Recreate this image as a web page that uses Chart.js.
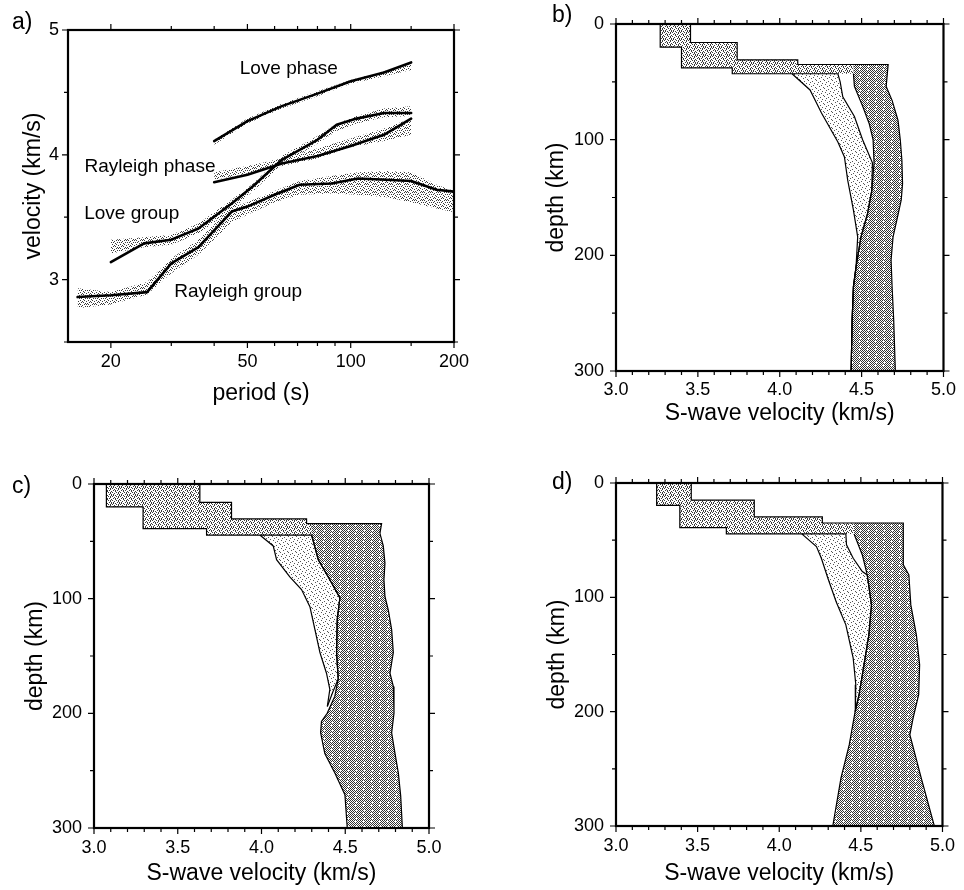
<!DOCTYPE html>
<html><head><meta charset="utf-8">
<script src="https://cdn.jsdelivr.net/npm/chart.js@4/dist/chart.umd.min.js"></script>
<style>
html,body{margin:0;padding:0;background:#fff;width:964px;height:890px;overflow:hidden;}
canvas{position:absolute;}
.lbl{position:absolute;font-family:"Liberation Sans",Arial,sans-serif;font-size:23px;line-height:23px;color:#000;}
</style></head><body>
<canvas id="ca" width="480" height="440" style="left:0;top:0"></canvas>
<canvas id="cb" width="484" height="440" style="left:480px;top:0"></canvas>
<canvas id="cc" width="480" height="450" style="left:0;top:440px"></canvas>
<canvas id="cd" width="484" height="450" style="left:480px;top:440px"></canvas>
<div class="lbl" style="left:12px;top:10px">a)</div>
<div class="lbl" style="left:552px;top:3px">b)</div>
<div class="lbl" style="left:12px;top:474px">c)</div>
<div class="lbl" style="left:552px;top:470px">d)</div>
<script>
// ---------------- Panel a : dispersion curves ----------------
const periodTicks = [20, 50, 100, 200];
const periodMinorTicks = [30, 40, 60, 70, 80, 90, 150];
const velocityTicks = [3, 4, 5];
const velocityMinorTicks = [2.5, 3.5, 4.5];

const lovePhasePeriod = [40, 50, 63, 80, 100, 125, 150];
const lovePhase      = [4.11, 4.27, 4.39, 4.49, 4.59, 4.66, 4.74];
const lovePhaseLow   = [4.08, 4.25, 4.37, 4.47, 4.57, 4.63, 4.68];
const lovePhaseHigh  = [4.12, 4.29, 4.41, 4.51, 4.60, 4.67, 4.73];

const rayPhasePeriod = [40, 50, 63, 80, 100, 125, 150];
const rayPhase       = [3.78, 3.84, 3.93, 3.99, 4.07, 4.16, 4.29];
const rayPhaseLow    = [3.80, 3.85, 3.91, 3.97, 4.06, 4.11, 4.16];
const rayPhaseHigh   = [3.86, 3.91, 3.97, 4.05, 4.13, 4.21, 4.29];

const loveGroupPeriod = [20, 25, 30, 36, 45, 52, 63, 80, 91, 104, 125, 150];
const loveGroup       = [3.14, 3.29, 3.32, 3.41, 3.61, 3.75, 3.96, 4.12, 4.24, 4.29, 4.335, 4.335];
const loveGroupLow    = [3.21, 3.26, 3.28, 3.37, 3.56, 3.71, 3.92, 4.09, 4.19, 4.25, 4.30, 4.31];
const loveGroupHigh   = [3.32, 3.34, 3.36, 3.45, 3.64, 3.77, 3.99, 4.15, 4.25, 4.31, 4.37, 4.39];

const rayGroupPeriod = [16, 20, 25.5, 30, 36, 45, 50, 60, 71, 88, 105, 127, 150, 178, 200];
const rayGroup       = [2.86, 2.875, 2.90, 3.13, 3.26, 3.545, 3.585, 3.68, 3.76, 3.77, 3.81, 3.80, 3.79, 3.72, 3.705];
const rayGroupLow    = [2.77, 2.80, 2.88, 3.05, 3.20, 3.46, 3.52, 3.62, 3.68, 3.69, 3.68, 3.66, 3.62, 3.57, 3.54];
const rayGroupHigh   = [2.93, 2.90, 2.98, 3.17, 3.32, 3.58, 3.62, 3.71, 3.79, 3.83, 3.86, 3.87, 3.86, 3.76, 3.71];

const curveLabels      = ['Love phase', 'Rayleigh phase', 'Love group', 'Rayleigh group'];
const curveLabelPeriod = [66, 26, 23, 47];
const curveLabelVel    = [4.69, 3.905, 3.53, 2.90];

// ---------------- Panels b, c, d : S-wave velocity profiles ----------------
const vsTicks = [3.0, 3.5, 4.0, 4.5, 5.0];
const vsMinorTicks = [3.1,3.2,3.3,3.4,3.6,3.7,3.8,3.9,4.1,4.2,4.3,4.4,4.6,4.7,4.8,4.9];
const depthTicks = [0, 100, 200, 300];
const depthMinorTicks = [50, 150, 250];

// panel b
const bCrustMinV = [3.27, 3.40, 3.71];   const bCrustMinBase = [20, 38, 43];
const bCrustMaxV = [3.455, 3.74, 4.11];  const bCrustMaxBase = [16, 31, 35];
const bL1Depth = [43, 57, 77, 102, 115, 135, 161, 184, 210, 227, 256, 300];
const bL1Vel   = [4.075, 4.185, 4.255, 4.355, 4.395, 4.415, 4.45, 4.476, 4.466, 4.45, 4.442, 4.436];
const bR1Depth = [43, 50, 63, 80, 100, 120, 144, 164, 184, 210, 227, 256, 300];
const bR1Vel   = [4.355, 4.369, 4.385, 4.456, 4.506, 4.566, 4.562, 4.536, 4.496, 4.466, 4.45, 4.442, 4.436];
const bL2Depth = [43, 54, 71, 86, 100, 120, 144, 164, 184, 210, 227, 256, 300];
const bL2Vel   = [4.45, 4.456, 4.506, 4.546, 4.57, 4.576, 4.562, 4.536, 4.496, 4.466, 4.45, 4.442, 4.436];
const bR2Depth = [35, 54, 66, 83, 100, 118, 138, 152, 169, 184, 204, 227, 256, 300];
const bR2Vel   = [4.662, 4.65, 4.686, 4.722, 4.736, 4.746, 4.75, 4.742, 4.716, 4.692, 4.68, 4.686, 4.696, 4.706];

// panel c
const cCrustMinV = [3.074, 3.293, 3.672]; const cCrustMinBase = [20, 39, 44.5];
const cCrustMaxV = [3.632, 3.821, 4.269]; const cCrustMaxBase = [16, 30.5, 34.5];
const cL1Depth = [44.5, 54, 66, 81, 92, 107, 127, 147, 165, 179, 194];
const cL1Vel   = [3.99, 4.07, 4.09, 4.169, 4.239, 4.289, 4.319, 4.349, 4.388, 4.408, 4.393];
const cR1Depth = [44.5, 66, 83.5, 99.4, 118, 147, 170, 182, 194];
const cR1Vel   = [4.299, 4.339, 4.408, 4.468, 4.452, 4.448, 4.458, 4.424, 4.393];
const cL2Depth = [44.5, 66, 83.5, 99.4, 118, 147, 170, 185, 200, 207, 217, 235, 252, 271, 300];
const cL2Vel   = [4.299, 4.339, 4.408, 4.468, 4.452, 4.448, 4.458, 4.438, 4.392, 4.358, 4.353, 4.378, 4.438, 4.498, 4.512];
const cR2Depth = [34.5, 43, 54, 69, 83.5, 98, 110, 127, 147, 165, 176.5, 200, 217, 235, 252, 272, 300];
const cR2Vel   = [4.717, 4.707, 4.727, 4.737, 4.731, 4.737, 4.757, 4.777, 4.787, 4.767, 4.787, 4.791, 4.777, 4.797, 4.817, 4.831, 4.841];

// panel d
const dCrustMinV = [3.249, 3.391, 3.676]; const dCrustMinBase = [19.5, 39, 44.5];
const dCrustMaxV = [3.461, 3.847, 4.264]; const dCrustMaxBase = [15, 29.7, 35];
const dL1Depth = [44.5, 55.6, 65.8, 83.3, 103.7, 124.1, 153.2, 176.5, 194, 200];
const dL1Vel   = [4.138, 4.228, 4.258, 4.298, 4.348, 4.408, 4.453, 4.469, 4.467, 4.465];
const dR1Depth = [44.5, 54.1, 65.8, 77.4, 80.4, 106.6, 132.8, 159, 185.2, 200];
const dR1Vel   = [4.408, 4.412, 4.453, 4.509, 4.539, 4.565, 4.549, 4.519, 4.489, 4.465];
const dL2Depth = [44.5, 62.9, 80.4, 106.6, 132.8, 159, 185.2, 199.8, 228.9, 258.1, 300];
const dL2Vel   = [4.458, 4.509, 4.539, 4.565, 4.549, 4.519, 4.489, 4.465, 4.429, 4.378, 4.328];
const dR2Depth = [35, 71.6, 80.4, 106.6, 132.8, 159, 185.2, 205.6, 220.2, 258.1, 300];
const dR2Vel   = [4.76, 4.76, 4.794, 4.806, 4.84, 4.86, 4.854, 4.82, 4.8, 4.87, 4.95];

// ---------------- helpers ----------------
const FONT = "'Liberation Sans', Arial, Helvetica, sans-serif";

function makePattern(rows, fg) {
  const c = document.createElement('canvas');
  c.width = rows[0].length; c.height = rows.length;
  const g = c.getContext('2d');
  g.fillStyle = '#fff'; g.fillRect(0, 0, c.width, c.height);
  g.fillStyle = fg;
  rows.forEach((r, y) => { for (let x = 0; x < r.length; x++) if (r[x] === 'x') g.fillRect(x, y, 1, 1); });
  return g.createPattern(c, 'repeat');
}
const lightPat = makePattern([
  'x.......', '....x...', '..x.....', '......x.',
  '.x......', '.....x..', '...x....', '.......x'], '#555');
const bandPat = makePattern([
  'x...x.x.', '..x.....', '.x...x.x', '...x....',
  'x...x...', '..x...x.', '.x.x....', '.....x.x'], '#3a3a3a');
const medPat = makePattern([
  'x...x.x.', '..x...x.', '.x.x.x..', '...x...x',
  'x...x.x.', '..x...x.', '.x...x.x', '.x.x...x'], '#3a3a3a');
const darkPat = makePattern([
  'x.x.x.x.', '.x.x.x.x', 'x.x...x.', '.x.x.x.x',
  'x.x.x.x.', '.x...x.x', 'x.x.x.x.', '.x.x.x.x'], '#333');

function pts(xs, ys) { return xs.map((v, i) => ({ x: v, y: ys[i] })); }
function stairs(vals, bases) {
  const out = []; let top = 0;
  vals.forEach((v, i) => { out.push({ x: v, y: top }); out.push({ x: v, y: bases[i] }); top = bases[i]; });
  return out;
}

const frameTicks = {
  id: 'frameTicks',
  afterDatasetsDraw(chart, args, o) {
    const { ctx, chartArea: a, scales } = chart;
    const xs = scales.x, ys = scales.y;
    ctx.save();
    ctx.strokeStyle = '#000';
    ctx.lineWidth = 1.2;
    ctx.beginPath();
    [[o.xMajor, o.majorLen], [o.xMinor, o.minorLen]].forEach(([vals, len]) => {
      vals.forEach(v => {
        const p = xs.getPixelForValue(v);
        ctx.moveTo(p, a.bottom); ctx.lineTo(p, a.bottom + len);
        ctx.moveTo(p, a.top); ctx.lineTo(p, a.top - len);
      });
    });
    [[o.yMajor, o.majorLen], [o.yMinor, o.minorLen]].forEach(([vals, len]) => {
      vals.forEach(v => {
        const p = ys.getPixelForValue(v);
        ctx.moveTo(a.left, p); ctx.lineTo(a.left - len, p);
        ctx.moveTo(a.right, p); ctx.lineTo(a.right + len, p);
      });
    });
    ctx.stroke();
    ctx.lineWidth = 2.2;
    ctx.strokeRect(a.left, a.top, a.right - a.left, a.bottom - a.top);
    ctx.restore();
  }
};

const textLabels = {
  id: 'textLabels',
  afterDatasetsDraw(chart, args, o) {
    if (!o.texts) return;
    const { ctx, scales } = chart;
    ctx.save();
    ctx.fillStyle = '#000';
    ctx.font = o.font;
    ctx.textAlign = 'center';
    ctx.textBaseline = 'middle';
    o.texts.forEach((t, i) => ctx.fillText(t, scales.x.getPixelForValue(o.xs[i]), scales.y.getPixelForValue(o.ys[i])));
    ctx.restore();
  }
};

const tickFont = { family: FONT, size: 18 };
const titleFont = { family: FONT, size: 23 };

// ---------------- Panel a ----------------
function bandSets(per, low, high, line) {
  return [
    { data: pts(per, low), borderColor: 'rgba(0,0,0,0)', borderWidth: 0, pointRadius: 0, fill: false, order: 3 },
    { data: pts(per, high), borderColor: 'rgba(0,0,0,0)', borderWidth: 0, pointRadius: 0, fill: '-1', backgroundColor: bandPat, order: 3 },
    { data: pts(per, line), borderColor: '#000', borderWidth: 2.6, pointRadius: 0, fill: false, order: 1, borderJoinStyle: 'round', borderCapStyle: 'round' }
  ];
}

new Chart(document.getElementById('ca'), {
  type: 'line',
  data: { datasets: [].concat(
    bandSets(lovePhasePeriod, lovePhaseLow, lovePhaseHigh, lovePhase),
    bandSets(rayPhasePeriod, rayPhaseLow, rayPhaseHigh, rayPhase),
    bandSets(loveGroupPeriod, loveGroupLow, loveGroupHigh, loveGroup),
    bandSets(rayGroupPeriod, rayGroupLow, rayGroupHigh, rayGroup)
  ) },
  options: {
    responsive: false, animation: false, events: [],
    layout: { padding: { left: 0, top: 30, right: 26, bottom: 0 } },
    elements: { line: { tension: 0 } },
    plugins: {
      legend: { display: false }, tooltip: { enabled: false },
      frameTicks: { xMajor: periodTicks, xMinor: periodMinorTicks, yMajor: velocityTicks, yMinor: velocityMinorTicks, majorLen: 6, minorLen: 4 },
      textLabels: { texts: curveLabels, xs: curveLabelPeriod, ys: curveLabelVel, font: '19px ' + FONT }
    },
    scales: {
      x: {
        type: 'logarithmic', min: 15, max: 200, position: 'bottom',
        grid: { display: false, drawTicks: false }, border: { display: false },
        afterBuildTicks: s => { s.ticks = periodTicks.map(v => ({ value: v })); },
        afterFit: s => { s.height = 98; },
        ticks: { font: tickFont, color: '#000', padding: 9, autoSkip: false, maxRotation: 0, callback: v => String(v) },
        title: { display: true, text: 'period (s)', font: titleFont, color: '#000', padding: { top: 0, bottom: 33 } }
      },
      y: {
        type: 'linear', min: 2.5, max: 5, position: 'left',
        grid: { display: false, drawTicks: false }, border: { display: false },
        afterBuildTicks: s => { s.ticks = velocityTicks.map(v => ({ value: v })); },
        afterFit: s => { s.width = 68; },
        ticks: { font: tickFont, color: '#000', padding: 9, autoSkip: false, callback: v => String(v) },
        title: { display: true, text: 'velocity (km/s)', font: titleFont, color: '#000', padding: { top: 20, bottom: 0 } }
      }
    }
  },
  plugins: [frameTicks, textLabels]
});

// ---------------- Profile panels ----------------
function profileChart(id, P, L) {
  const moho = P.minBase[P.minBase.length - 1];
  const topDark = P.maxBase[P.maxBase.length - 1];
  const l2top = P.L2v[0];
  const crustPoly = stairs(P.minV, P.minBase)
    .concat([{ x: l2top, y: moho }, { x: l2top, y: topDark }])
    .concat(stairs(P.maxV, P.maxBase).reverse());
  const lightPoly = pts(P.L1v, P.L1d).concat(pts(P.R1v, P.R1d).reverse());
  const darkPoly = [{ x: l2top, y: topDark }].concat(pts(P.L2v, P.L2d)).concat(pts(P.R2v, P.R2d).reverse());
  const outLeft = stairs(P.minV, P.minBase).concat(pts(P.R1v, P.R1d));
  const outRight = stairs(P.maxV, P.maxBase).concat(pts(P.R2v, P.R2d));
  const fillSet = (data, bg, order) => ({ data, fill: 'shape', backgroundColor: bg, borderColor: 'rgba(0,0,0,0)', borderWidth: 0, pointRadius: 0, order });
  const lineSet = (data) => ({ data, fill: false, borderColor: '#000', borderWidth: 1.2, pointRadius: 0, order: 1 });
  new Chart(document.getElementById(id), {
    type: 'line',
    data: { datasets: [
      fillSet(lightPoly, lightPat, 6),
      fillSet(darkPoly, darkPat, 5),
      fillSet(crustPoly, medPat, 4),
      lineSet(outLeft), lineSet(outRight),
      lineSet(pts(P.L1v, P.L1d)), lineSet(pts(P.L2v, P.L2d))
    ] },
    options: {
      indexAxis: 'y',
      responsive: false, animation: false, events: [],
      layout: { padding: { left: 0, top: L.top, right: L.right, bottom: 0 } },
      elements: { line: { tension: 0 } },
      plugins: {
        legend: { display: false }, tooltip: { enabled: false },
        frameTicks: { xMajor: vsTicks, xMinor: vsMinorTicks, yMajor: depthTicks, yMinor: depthMinorTicks, majorLen: 6, minorLen: 4 }
      },
      scales: {
        x: {
          type: 'linear', min: 3, max: 5, position: 'bottom',
          grid: { display: false, drawTicks: false }, border: { display: false },
          afterBuildTicks: s => { s.ticks = vsTicks.map(v => ({ value: v })); },
          afterFit: s => { s.height = L.xh; },
          ticks: { font: tickFont, color: '#000', padding: L.xpad, autoSkip: false, maxRotation: 0, callback: v => Number(v).toFixed(1) },
          title: { display: true, text: 'S-wave velocity (km/s)', font: titleFont, color: '#000', padding: { top: 0, bottom: L.xtb } }
        },
        y: {
          type: 'linear', min: 0, max: 300, reverse: true, position: 'left',
          grid: { display: false, drawTicks: false }, border: { display: false },
          afterBuildTicks: s => { s.ticks = depthTicks.map(v => ({ value: v })); },
          afterFit: s => { s.width = L.yw; },
          ticks: { font: tickFont, color: '#000', padding: 12, autoSkip: false, callback: v => String(v) },
          title: { display: true, text: 'depth (km)', font: titleFont, color: '#000', padding: { top: L.ytt, bottom: 0 } }
        }
      }
    },
    plugins: [frameTicks]
  });
}

profileChart('cb', { minV: bCrustMinV, minBase: bCrustMinBase, maxV: bCrustMaxV, maxBase: bCrustMaxBase,
  L1v: bL1Vel, L1d: bL1Depth, R1v: bR1Vel, R1d: bR1Depth, L2v: bL2Vel, L2d: bL2Depth, R2v: bR2Vel, R2d: bR2Depth },
  { top: 24, right: 15, xh: 69, yw: 136, xpad: 8, xtb: 13, ytt: 63 });
profileChart('cc', { minV: cCrustMinV, minBase: cCrustMinBase, maxV: cCrustMaxV, maxBase: cCrustMaxBase,
  L1v: cL1Vel, L1d: cL1Depth, R1v: cR1Vel, R1d: cR1Depth, L2v: cL2Vel, L2d: cL2Depth, R2v: cR2Vel, R2d: cR2Depth },
  { top: 44, right: 51, xh: 62, yw: 94, xpad: 9, xtb: 3, ytt: 22 });
profileChart('cd', { minV: dCrustMinV, minBase: dCrustMinBase, maxV: dCrustMaxV, maxBase: dCrustMaxBase,
  L1v: dL1Vel, L1d: dL1Depth, R1v: dR1Vel, R1d: dR1Depth, L2v: dL2Vel, L2d: dL2Depth, R2v: dR2Vel, R2d: dR2Depth },
  { top: 43, right: 16, xh: 64, yw: 136, xpad: 9, xtb: 3, ytt: 64 });
</script>
</body></html>
